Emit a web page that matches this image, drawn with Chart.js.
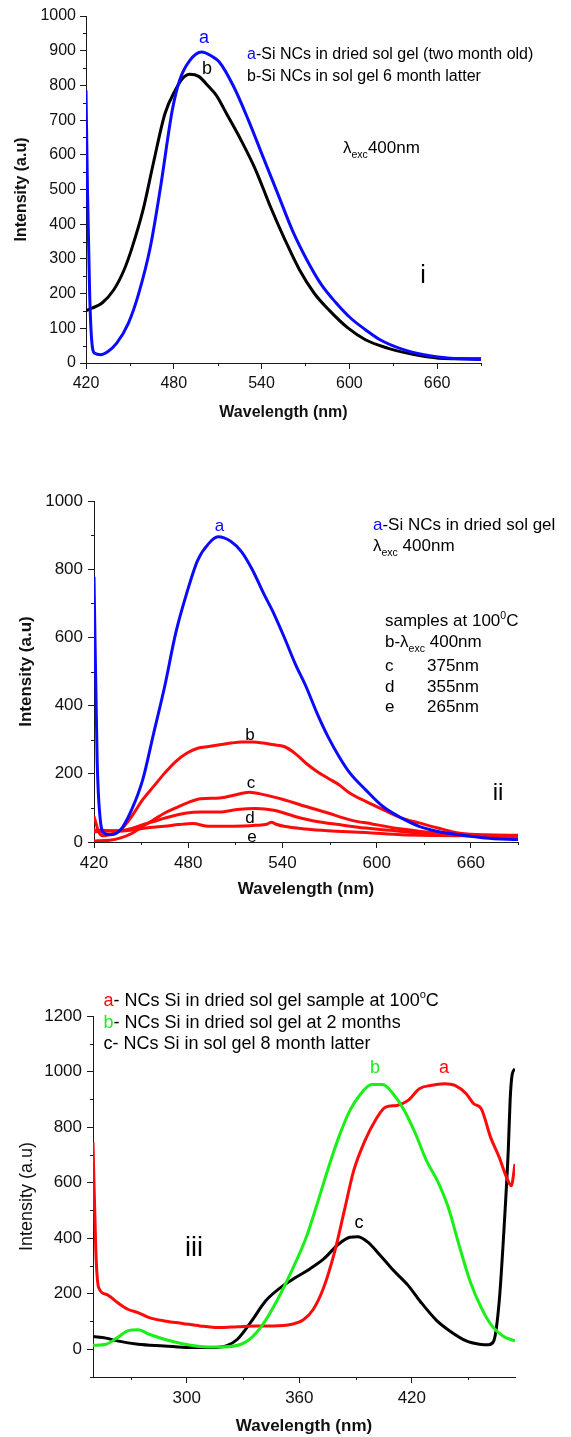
<!DOCTYPE html>
<html>
<head>
<meta charset="utf-8">
<script src="https://cdn.jsdelivr.net/npm/chart.js@4.4.1/dist/chart.umd.min.js"></script>
<style>
  body { margin: 0; background: #fff; width: 571px; height: 1437px; position: relative; overflow: hidden; }
  canvas { position: absolute; left: 0; }
</style>
</head>
<body>
<canvas id="chartI" width="571" height="430" style="top:0px"></canvas>
<canvas id="chartII" width="571" height="445" style="top:460px"></canvas>
<canvas id="chartIII" width="571" height="487" style="top:950px"></canvas>
<script>
const BLUE = '#0a0aff';
const RED = '#ff0a0a';
const GREEN = '#18f018';
const BLACK = '#000000';
const AXIS = '#1a1a1a';

// ---- panel i : emission, x = wavelength (nm)
const p1aX = [420, 421, 422.5, 424, 426, 430, 435, 441, 449, 456, 464, 471, 479, 484, 491, 499, 506, 511, 521, 531, 541, 551, 561, 571, 581, 591, 601, 611, 621, 636, 651, 669, 690];
const p1aY = [786, 500, 200, 60, 28, 24, 33, 57, 115, 200, 335, 508, 729, 815, 872, 896, 884, 868, 796, 700, 594, 489, 383, 297, 225, 173, 129, 96, 67, 40, 24, 14, 10];
const p1bX = [420, 424, 431, 439, 446, 451, 459, 466, 474, 481, 486, 491, 497, 504, 509, 516, 526, 536, 546, 556, 566, 576, 586, 599, 611, 626, 641, 661, 690];
const p1bY = [151, 158, 173, 211, 268, 326, 441, 575, 719, 786, 820, 832, 826, 796, 772, 719, 642, 556, 451, 355, 268, 201, 153, 101, 67, 43, 27, 14, 12];
const p1TicksX = [420, 480, 540, 600, 660];
const p1MinorX = [450, 510, 570, 630, 690];
const p1TicksY = [0, 100, 200, 300, 400, 500, 600, 700, 800, 900, 1000];
const p1MinorY = [50, 150, 250, 350, 450, 550, 650, 750, 850, 950];

// ---- panel ii
const p2aX = [420, 422, 424, 426.5, 430, 437, 444, 451, 458, 465, 472, 479, 486, 493, 499, 507, 514, 521, 528, 534.5, 541, 548, 555, 562, 569, 576, 583, 593, 604, 616, 627, 639, 653, 669, 690];
const p2aY = [778, 241, 65, 26, 21, 36, 95, 182, 319, 456, 612, 729, 826, 875, 895, 882, 851, 797, 729, 670, 602, 524, 456, 378, 309, 251, 202, 153, 104, 70, 46, 31, 21, 12, 7];
const p2bX = [420, 423, 426, 430, 437, 444, 451, 458, 465, 472, 479, 486, 493, 500, 507, 514, 521, 528, 534.5, 541, 548, 555, 562, 569, 576, 583, 593, 604, 616, 627, 639, 653, 669, 690];
const p2bY = [75, 30, 18, 22, 36, 75, 124, 163, 202, 236, 260, 275, 280, 285, 290, 293, 293, 290, 285, 280, 260, 231, 207, 187, 168, 143, 119, 95, 70, 56, 41, 26, 21, 20];
const p2cX = [420, 430, 437, 444, 451, 458, 465, 472, 479, 488, 500, 509, 519, 528, 541, 555, 569, 583, 597, 616, 639, 662, 690];
const p2cY = [3, 5, 12, 25, 46, 65, 85, 100, 114, 127, 129, 137, 146, 139, 124, 104, 85, 65, 53, 38, 26, 19, 17];
const p2dX = [420, 430, 437, 444, 451, 458, 465, 479, 488, 500, 511, 523, 534.5, 548, 562, 576, 593, 616, 639, 690];
const p2dY = [35, 33, 33, 40, 51, 60, 70, 85, 88, 88, 95, 98, 93, 75, 60, 51, 41, 31, 21, 17];
const p2eX = [420, 430, 440, 453, 465, 474, 483, 493, 504, 515, 523, 530, 533, 536, 541, 555, 569, 593, 616, 639, 690];
const p2eY = [30, 32, 33, 41, 46, 51, 54, 46, 46, 47, 49, 52, 58, 52, 46, 38, 33, 28, 21, 19, 17];
const p2TicksX = [420, 480, 540, 600, 660];
const p2MinorX = [450, 510, 570, 630, 690];
const p2TicksY = [0, 200, 400, 600, 800, 1000];
const p2MinorY = [100, 300, 500, 700, 900];

// ---- panel iii
const p3aX = [250, 251.5, 253, 257, 263, 268.5, 274, 280, 288, 297.7, 307, 317, 327, 336.5, 346, 356, 362, 367.5, 373, 379, 384, 389, 395, 400.5, 406, 412, 418, 424, 430, 437.5, 443, 449, 453, 457, 462, 466.6, 470.5, 473, 475];
const p3aY = [745, 355, 222, 198, 168, 144, 132, 114, 102, 93, 84, 78, 81, 84, 84, 90, 105, 144, 222, 355, 499, 643, 751, 824, 872, 878, 896, 938, 950, 956, 950, 920, 884, 866, 763, 691, 619, 589, 667];
const p3bX = [250, 257, 263, 268.5, 274, 280, 288, 297.7, 307, 317, 329, 334.6, 340, 348, 356, 363.7, 369.5, 375, 381, 387, 392.8, 398.6, 404.5, 410, 416, 422, 427.8, 433.6, 439.4, 445, 451, 457, 462.7, 468.5, 475];
const p3bY = [14, 18, 42, 66, 70, 54, 36, 20, 10, 8, 18, 42, 84, 174, 283, 403, 523, 643, 763, 860, 920, 953, 953, 920, 860, 775, 679, 607, 511, 379, 246, 150, 84, 48, 30];
const p3cX = [250, 257, 263, 274, 288, 301.5, 313, 321, 327, 334.6, 342, 350, 358, 365.6, 373, 381, 387, 391, 396.7, 402.5, 410, 418, 424.4, 433, 440.4, 449, 456, 461, 463.7, 466.6, 469.5, 471.4, 472.4, 473.4, 475];
const p3cY = [46, 40, 30, 18, 12, 6, 6, 12, 36, 102, 174, 222, 258, 289, 325, 379, 403, 405, 385, 343, 285, 230, 173, 105, 65, 30, 18, 16, 30, 174, 475, 715, 896, 986, 1010];
const p3TicksX = [300, 360, 420];
const p3MinorX = [270, 330, 390, 450];
const p3TicksY = [0, 200, 400, 600, 800, 1000, 1200];
const p3MinorY = [-100, 100, 300, 500, 700, 900, 1100];

Chart.defaults.font.family = '"Liberation Sans", Arial, sans-serif';

function pts(xs, ys) {
    return xs.map((x, i) => ({ x: x, y: ys[i] }));
}

function line(label, xs, ys, color) {
    return {
        label: label,
        data: pts(xs, ys),
        borderColor: color,
        borderWidth: 3,
        pointRadius: 0,
        fill: false,
        cubicInterpolationMode: 'monotone'
    };
}

// short minor ticks, the library draws only one tick length
const minorTicks = {
    id: 'minorTicks',
    afterDraw(chart, args, opts) {
        const ctx = chart.ctx;
        const xs = chart.scales.x, ys = chart.scales.y;
        ctx.save();
        ctx.strokeStyle = AXIS;
        ctx.lineWidth = 1;
        opts.x.forEach(v => {
            const px = Math.round(xs.getPixelForValue(v)) + 0.5;
            ctx.beginPath();
            ctx.moveTo(px, xs.top);
            ctx.lineTo(px, xs.top + opts.len);
            ctx.stroke();
        });
        opts.y.forEach(v => {
            const py = Math.round(ys.getPixelForValue(v)) + 0.5;
            ctx.beginPath();
            ctx.moveTo(ys.right, py);
            ctx.lineTo(ys.right - opts.len, py);
            ctx.stroke();
        });
        ctx.restore();
    }
};

// free text: curve letters, legend lines, sub/superscripts
const notes = {
    id: 'notes',
    afterDraw(chart, args, opts) {
        const ctx = chart.ctx;
        ctx.save();
        ctx.textBaseline = 'alphabetic';
        ctx.textAlign = 'left';
        opts.items.forEach(item => {
            const fontFor = p => {
                const fs = p.s ? item.size * 0.62 : item.size;
                return `${fs}px "Liberation Sans", Arial, sans-serif`;
            };
            let total = 0;
            item.parts.forEach(p => { ctx.font = fontFor(p); total += ctx.measureText(p.t).width; });
            let cx = item.align === 'center' ? item.x - total / 2 : item.x;
            item.parts.forEach(p => {
                ctx.font = fontFor(p);
                ctx.fillStyle = p.c || BLACK;
                let dy = 0;
                if (p.s === 'sub') dy = item.size * 0.3;
                if (p.s === 'sup') dy = -item.size * 0.42;
                ctx.fillText(p.t, cx, item.y + dy);
                cx += ctx.measureText(p.t).width;
            });
        });
        ctx.restore();
    }
};

function scale(o) {
    return {
        type: 'linear',
        min: o.min,
        max: o.max,
        afterBuildTicks: s => { s.ticks = o.ticks.map(v => ({ value: v })); },
        afterFit: s => { if (o.horizontal) s.height = o.size; else s.width = o.size; },
        border: { display: true, color: AXIS, width: 1 },
        grid: { drawOnChartArea: false, drawTicks: true, tickLength: 6, color: AXIS },
        ticks: {
            color: '#111',
            font: { size: o.fontSize },
            padding: o.tickPad,
            autoSkip: false,
            maxRotation: 0,
            callback: v => String(v)
        },
        title: {
            display: true,
            text: o.title,
            color: '#111',
            font: { size: o.titleSize, weight: o.bold ? 'bold' : 'normal' },
            padding: o.horizontal ? { top: 0, bottom: o.titlePad } : { top: o.titlePad, bottom: 0 }
        }
    };
}

function makeChart(id, datasets, box, xs, ys, minor, items) {
    const canvas = document.getElementById(id);
    return new Chart(canvas, {
        type: 'line',
        data: { datasets: datasets },
        options: {
            responsive: false,
            animation: false,
            devicePixelRatio: 1,
            layout: { padding: { left: 0, top: box.top, right: 571 - box.right, bottom: 0 } },
            plugins: {
                legend: { display: false },
                tooltip: { enabled: false },
                minorTicks: minor,
                notes: { items: items }
            },
            scales: { x: xs, y: ys }
        },
        plugins: [minorTicks, notes]
    });
}

// panel i
makeChart('chartI',
    [line('a', p1aX, p1aY, BLUE), line('b', p1bX, p1bY, BLACK)],
    { top: 16, right: 481 },
    scale({ horizontal: true, min: 420, max: 690, ticks: p1TicksX, size: 430 - 363, fontSize: 16, tickPad: 5,
            title: 'Wavelength (nm)', titleSize: 16, bold: true, titlePad: 8 }),
    scale({ min: 0, max: 1000, ticks: p1TicksY, size: 86, fontSize: 16, tickPad: 4,
            title: 'Intensity (a.u)', titleSize: 16, bold: true, titlePad: 12 }),
    { x: p1MinorX, y: p1MinorY, len: 3 },
    [
        { x: 204, y: 43, size: 18, align: 'center', parts: [{ t: 'a', c: BLUE }] },
        { x: 207, y: 74, size: 18, align: 'center', parts: [{ t: 'b' }] },
        { x: 247, y: 59, size: 16, parts: [{ t: 'a', c: BLUE }, { t: '-Si NCs in dried sol gel (two month old)' }] },
        { x: 247, y: 81, size: 16, parts: [{ t: 'b-Si NCs in sol gel 6 month latter' }] },
        { x: 343, y: 153, size: 17, parts: [{ t: 'λ' }, { t: 'exc', s: 'sub' }, { t: '400nm' }] },
        { x: 423, y: 283, size: 25, align: 'center', parts: [{ t: 'i' }] }
    ]);

// panel ii
makeChart('chartII',
    [line('a', p2aX, p2aY, BLUE), line('b', p2bX, p2bY, RED), line('c', p2cX, p2cY, RED),
     line('d', p2dX, p2dY, RED), line('e', p2eX, p2eY, RED)],
    { top: 41, right: 518 },
    scale({ horizontal: true, min: 420, max: 690, ticks: p2TicksX, size: 445 - 382, fontSize: 17, tickPad: 5,
            title: 'Wavelength (nm)', titleSize: 17, bold: true, titlePad: 5 }),
    scale({ min: 0, max: 1000, ticks: p2TicksY, size: 94, fontSize: 17, tickPad: 5,
            title: 'Intensity (a.u)', titleSize: 17, bold: true, titlePad: 16 }),
    { x: p2MinorX, y: p2MinorY, len: 3 },
    [
        { x: 219.5, y: 71, size: 17, align: 'center', parts: [{ t: 'a', c: BLUE }] },
        { x: 373, y: 70, size: 17, parts: [{ t: 'a', c: BLUE }, { t: '-Si NCs in dried sol gel' }] },
        { x: 373, y: 91, size: 17, parts: [{ t: 'λ' }, { t: 'exc', s: 'sub' }, { t: ' 400nm' }] },
        { x: 385, y: 166, size: 17, parts: [{ t: 'samples at 100' }, { t: '0', s: 'sup' }, { t: 'C' }] },
        { x: 385, y: 187, size: 17, parts: [{ t: 'b-λ' }, { t: 'exc', s: 'sub' }, { t: ' 400nm' }] },
        { x: 385, y: 211, size: 17, parts: [{ t: 'c' }] },
        { x: 427, y: 211, size: 17, parts: [{ t: '375nm' }] },
        { x: 385, y: 232, size: 17, parts: [{ t: 'd' }] },
        { x: 427, y: 232, size: 17, parts: [{ t: '355nm' }] },
        { x: 385, y: 252, size: 17, parts: [{ t: 'e' }] },
        { x: 427, y: 252, size: 17, parts: [{ t: '265nm' }] },
        { x: 250, y: 280, size: 17, align: 'center', parts: [{ t: 'b' }] },
        { x: 251, y: 328, size: 17, align: 'center', parts: [{ t: 'c' }] },
        { x: 250, y: 363, size: 17, align: 'center', parts: [{ t: 'd' }] },
        { x: 252, y: 382, size: 17, align: 'center', parts: [{ t: 'e' }] },
        { x: 498, y: 340, size: 24, align: 'center', parts: [{ t: 'ii' }] }
    ]);

// panel iii
makeChart('chartIII',
    [line('b', p3bX, p3bY, GREEN), line('a', p3aX, p3aY, RED), line('c', p3cX, p3cY, BLACK)],
    { top: 66, right: 515 },
    scale({ horizontal: true, min: 250, max: 475, ticks: p3TicksX, size: 487 - 427, fontSize: 17, tickPad: 5,
            title: 'Wavelength (nm)', titleSize: 17, bold: true, titlePad: 0 }),
    scale({ min: -100, max: 1200, ticks: p3TicksY, size: 93, fontSize: 17, tickPad: 5,
            title: 'Intensity (a.u)', titleSize: 18, bold: false, titlePad: 16 }),
    { x: p3MinorX, y: p3MinorY, len: 3 },
    [
        { x: 103.5, y: 56, size: 18, parts: [{ t: 'a', c: RED }, { t: '- NCs Si in dried sol gel sample at 100' }, { t: 'o', s: 'sup' }, { t: 'C' }] },
        { x: 103.5, y: 78, size: 18, parts: [{ t: 'b', c: GREEN }, { t: '- NCs Si in dried sol gel at 2 months' }] },
        { x: 103.5, y: 99, size: 18, parts: [{ t: 'c- NCs Si in sol gel 8 month latter' }] },
        { x: 375, y: 123, size: 18, align: 'center', parts: [{ t: 'b', c: GREEN }] },
        { x: 444, y: 123, size: 18, align: 'center', parts: [{ t: 'a', c: RED }] },
        { x: 359, y: 278, size: 18, align: 'center', parts: [{ t: 'c' }] },
        { x: 194, y: 306, size: 27, align: 'center', parts: [{ t: 'iii' }] }
    ]);
</script>
</body>
</html>
